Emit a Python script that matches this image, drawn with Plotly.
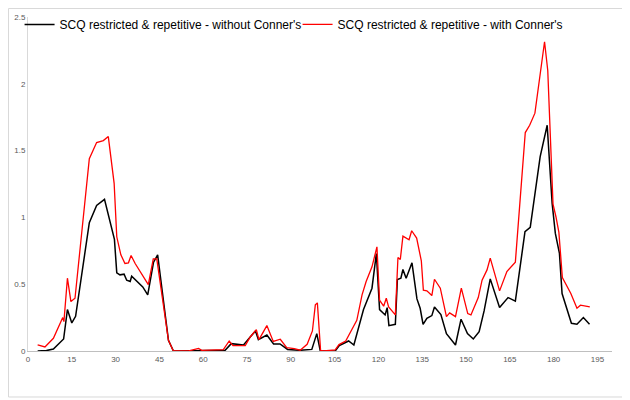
import plotly.graph_objects as go

series_black_name = "SCQ restricted & repetitive - without Conner's"
series_red_name = "SCQ restricted & repetitive - with Conner's"

x_black = [3.3, 6.3, 8.7, 11.5, 12.2, 13.5, 15.0, 16.3, 21.0, 23.5, 26.2, 29.6, 30.4, 31.5, 32.9,
           33.8, 35.0, 35.5, 39.3, 41.0, 43.0, 44.4, 48.1, 49.8, 55.0, 60.0, 67.5, 69.6, 73.8,
           76.1, 77.9, 78.9, 81.8, 84.1, 86.3, 88.9, 93.0, 97.2, 98.9, 100.1, 105.2, 106.6,
           109.8, 111.6, 114.9, 117.8, 119.3, 120.4, 122.3, 123.0, 123.6, 125.8, 126.5, 127.7,
           128.4, 129.5, 131.5, 133.2, 134.3, 135.3, 136.6, 138.3, 139.2, 141.4, 143.3, 146.4,
           148.3, 150.5, 152.5, 154.5, 156.2, 158.3, 161.5, 164.4, 166.9, 170.2, 172.0, 175.4,
           177.8, 179.5, 180.6, 182.0, 182.9, 186.1, 188.0, 190.2, 192.3]
y_black = [0.0, 0.003, 0.015, 0.08, 0.09, 0.31, 0.21, 0.26, 0.96, 1.09, 1.135, 0.835, 0.585, 0.57,
           0.575, 0.53, 0.52, 0.56, 0.48, 0.42, 0.665, 0.72, 0.08, 0.0, 0.0, 0.005, 0.005, 0.055,
           0.045, 0.105, 0.15, 0.085, 0.12, 0.052, 0.053, 0.012, 0.005, 0.012, 0.13, 0.0, 0.0,
           0.04, 0.075, 0.045, 0.31, 0.47, 0.73, 0.31, 0.27, 0.325, 0.19, 0.2, 0.535, 0.545,
           0.61, 0.545, 0.66, 0.39, 0.32, 0.2, 0.245, 0.265, 0.33, 0.273, 0.13, 0.045, 0.238,
           0.13, 0.09, 0.145, 0.3, 0.54, 0.326, 0.4, 0.373, 0.893, 0.925, 1.455, 1.69, 1.105,
           0.88, 0.73, 0.43, 0.207, 0.2, 0.25, 0.2]

x_red = [3.3, 5.8, 8.7, 11.0, 11.9, 12.3, 13.5, 14.7, 16.1, 21.0, 23.5, 25.8, 27.5, 29.5, 30.4,
         31.8, 33.2, 34.4, 35.3, 36.7, 40.7, 41.2, 42.9, 44.1, 48.1, 49.8, 55.0, 58.4, 59.5,
         63.5, 66.9, 68.9, 70.2, 74.4, 76.1, 78.2, 79.1, 81.8, 84.0, 86.4, 88.6, 91.2, 93.2,
         95.6, 97.4, 98.4, 99.1, 100.2, 101.2, 105.2, 106.5, 108.8, 110.9, 112.6, 114.4, 115.8,
         117.8, 119.5, 120.4, 121.8, 122.7, 123.5, 125.8, 126.7, 127.5, 128.4, 130.5, 131.4,
         133.1, 134.7, 135.4, 136.6, 138.3, 139.2, 141.2, 143.3, 144.4, 146.4, 148.4, 150.6,
         151.7, 154.2, 155.5, 157.2, 158.3, 161.5, 164.0, 166.9, 170.3, 171.8, 173.6, 176.9,
         178.0, 179.8, 180.8, 181.8, 183.0, 185.9, 188.0, 189.2, 192.4]
y_red = [0.045, 0.03, 0.095, 0.21, 0.25, 0.22, 0.545, 0.37, 0.395, 1.44, 1.56, 1.575, 1.605, 1.255,
         0.855, 0.72, 0.655, 0.66, 0.715, 0.655, 0.51, 0.497, 0.69, 0.69, 0.08, 0.0, 0.0, 0.02,
         0.005, 0.01, 0.01, 0.075, 0.04, 0.04, 0.105, 0.16, 0.085, 0.19, 0.072, 0.088, 0.025,
         0.018, 0.006, 0.05, 0.15, 0.345, 0.36, 0.005, 0.0, 0.008, 0.048, 0.075, 0.155, 0.23,
         0.42, 0.52, 0.63, 0.78, 0.38, 0.335, 0.395, 0.33, 0.27, 0.70, 0.685, 0.86, 0.833, 0.90,
         0.845, 0.675, 0.455, 0.45, 0.415, 0.537, 0.47, 0.257, 0.285, 0.257, 0.47, 0.28, 0.27,
         0.4, 0.53, 0.607, 0.695, 0.45, 0.595, 0.665, 1.635, 1.69, 1.78, 2.315, 2.1, 1.1, 1.005,
         0.89, 0.55, 0.43, 0.32, 0.343, 0.33]

x_ticks = [0, 15, 30, 45, 60, 75, 90, 105, 120, 135, 150, 165, 180, 195]
y_ticks = [0, 0.5, 1, 1.5, 2, 2.5]
y_tick_labels = ["0", "0.5", "1", "1.5", "2", "2.5"]

fig = go.Figure()
fig.add_trace(go.Scatter(x=x_black, y=y_black, mode="lines", name=series_black_name,
                         line=dict(color="#000000", width=1.5)))
fig.add_trace(go.Scatter(x=x_red, y=y_red, mode="lines", name=series_red_name,
                         line=dict(color="#ff0000", width=1.3)))

fig.update_layout(
    width=622, height=392,
    margin=dict(l=20, r=18, t=9, b=49, autoexpand=False),
    paper_bgcolor="white", plot_bgcolor="white",
    font=dict(family="Liberation Sans, Arial, sans-serif", color="#000000"),
    showlegend=True,
    legend=dict(orientation="h", xref="container", yref="container",
                x=0.0186, y=0.995, xanchor="left", yanchor="top",
                font=dict(size=12, color="#000000"), itemwidth=30,
                entrywidth=233, entrywidthmode="pixels",
                bgcolor="rgba(0,0,0,0)", traceorder="normal"),
    xaxis=dict(range=[0, 200], tickvals=x_ticks, showgrid=False, zeroline=False,
               showline=True, linecolor="#bfbfbf", linewidth=1, ticks="",
               tickfont=dict(size=8, color="#595959"), automargin=False),
    yaxis=dict(range=[0, 2.5], tickvals=y_ticks, ticktext=y_tick_labels, showgrid=False,
               zeroline=False, showline=True, linecolor="#d9d9d9", linewidth=1, ticks="",
               tickfont=dict(size=8, color="#595959"), automargin=False),
    shapes=[dict(type="rect", xref="paper", yref="paper",
                 x0=-0.0334, x1=1.0257, y0=-0.1377, y1=1.0254,
                 line=dict(color="#d9d9d9", width=1), fillcolor="rgba(0,0,0,0)", layer="below")],
)

fig.write_html("out.html")
